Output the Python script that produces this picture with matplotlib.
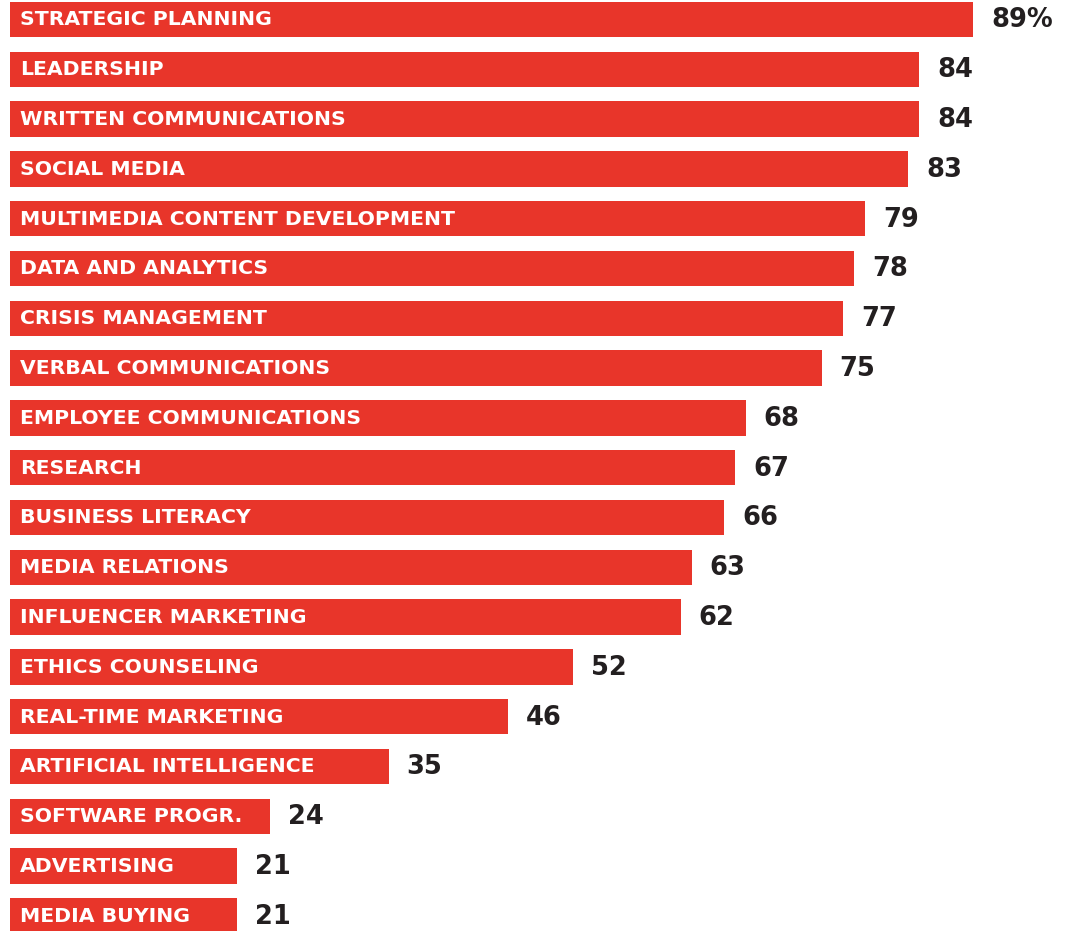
import matplotlib
matplotlib.use("Agg")
import matplotlib.pyplot as plt

categories = ["STRATEGIC PLANNING", "LEADERSHIP", "WRITTEN COMMUNICATIONS", "SOCIAL MEDIA",
              "MULTIMEDIA CONTENT DEVELOPMENT", "DATA AND ANALYTICS", "CRISIS MANAGEMENT",
              "VERBAL COMMUNICATIONS", "EMPLOYEE COMMUNICATIONS", "RESEARCH", "BUSINESS LITERACY",
              "MEDIA RELATIONS", "INFLUENCER MARKETING", "ETHICS COUNSELING", "REAL-TIME MARKETING",
              "ARTIFICIAL INTELLIGENCE", "SOFTWARE PROGR.", "ADVERTISING", "MEDIA BUYING"]
values = [89, 84, 84, 83, 79, 78, 77, 75, 68, 67, 66, 63, 62, 52, 46, 35, 24, 21, 21]
value_labels = ["89%"] + [str(v) for v in values[1:]]

W, H = 1069, 931
fig = plt.figure(figsize=(W / 100, H / 100), dpi=100)
ax = fig.add_axes([0, 0, 1, 1])
px_per_unit = 10.82
x0 = 10
step = 49.8
c0 = 19.5
ax.set_xlim(-x0 / px_per_unit, (W - x0) / px_per_unit)
ax.set_ylim((H - c0) / step, -c0 / step)
ax.axis("off")

red = "#E8352A"
ys = list(range(len(categories)))
ax.barh(ys, values, height=0.71, color=red, left=0)
for y, cat, v, lab in zip(ys, categories, values, value_labels):
    ax.text(10 / px_per_unit, y + 0.01, cat, color="white", fontsize=14.7, fontweight="bold",
            va="center", ha="left", family="DejaVu Sans")
    ax.text(v + 18 / px_per_unit, y + 0.02, lab, color="#231F20", fontsize=18.5, fontweight="bold",
            va="center", ha="left", family="DejaVu Sans")

fig.savefig("out.png", dpi=100)
